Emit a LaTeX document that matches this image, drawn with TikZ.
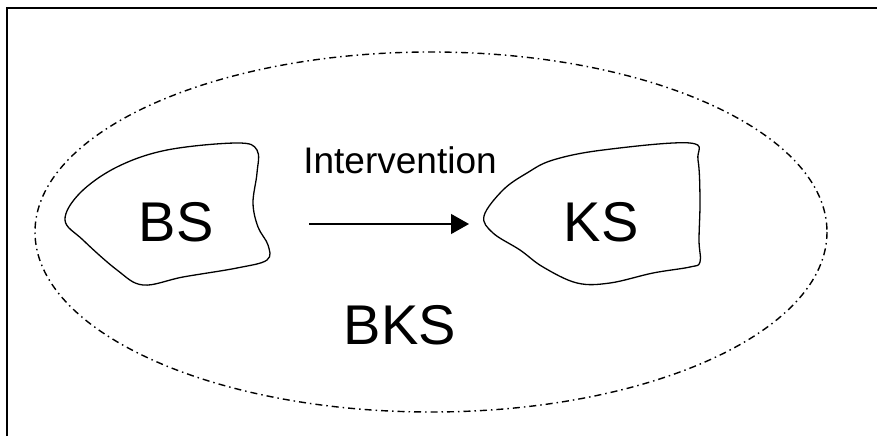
\documentclass[tikz,border=0pt]{standalone}
\usepackage{fontspec}
\setmainfont{Liberation Sans}
\usetikzlibrary{arrows.meta}
\begin{document}
\begin{tikzpicture}[x=1pt,y=-1pt,
  blob/.style={draw=black,line width=1.3pt},
  bigtxt/.style={font=\fontsize{56}{60}\selectfont,inner sep=0pt},
  lbl/.style={font=\fontsize{37}{40}\selectfont,inner sep=0pt},
  dashdot/.style={draw=black,line width=1.4pt,dash pattern=on 7pt off 4pt on 1.5pt off 4pt}]
\useasboundingbox (0,0) rectangle (877,436);
% frame (partially visible)
\draw[line width=2pt] (7,436) -- (7,8) -- (877,8);
% outer ellipse
\draw[dashdot] (431,232) ellipse [x radius=396, y radius=180];
% BS blob
\draw[blob] plot[smooth cycle,tension=0.6] coordinates {
  (65,220) (80,193) (117,167) (167,150) (237,143) (257,150) (257,173)
  (253,203) (258,227) (268,245) (267,260) (237,268) (183,277) (143,285)
  (117,270) (83,240)};
% KS blob
\draw[blob] plot[smooth cycle,tension=0.6] coordinates {
  (484,216) (503,190) (527,173) (553,160) (603,150) (690,143) (698,160)
  (700,200) (699,240) (700,262) (690,267) (653,273) (610,283) (577,283)
  (543,267) (520,250) (493,233)};
\node[bigtxt] (bs) at (176,222) {BS};
\node[bigtxt] (ks) at (601,222) {KS};
\node[bigtxt] (bks) at (400,325) {BKS};
\node[lbl] (int) at (400,160) {Intervention};
\coordinate (a1) at (309,224);
\coordinate (a2) at (469,224);
\draw[line width=1.3pt,-{Triangle[length=18pt,width=20pt]}] (a1) -- (a2);
\end{tikzpicture}
\end{document}
